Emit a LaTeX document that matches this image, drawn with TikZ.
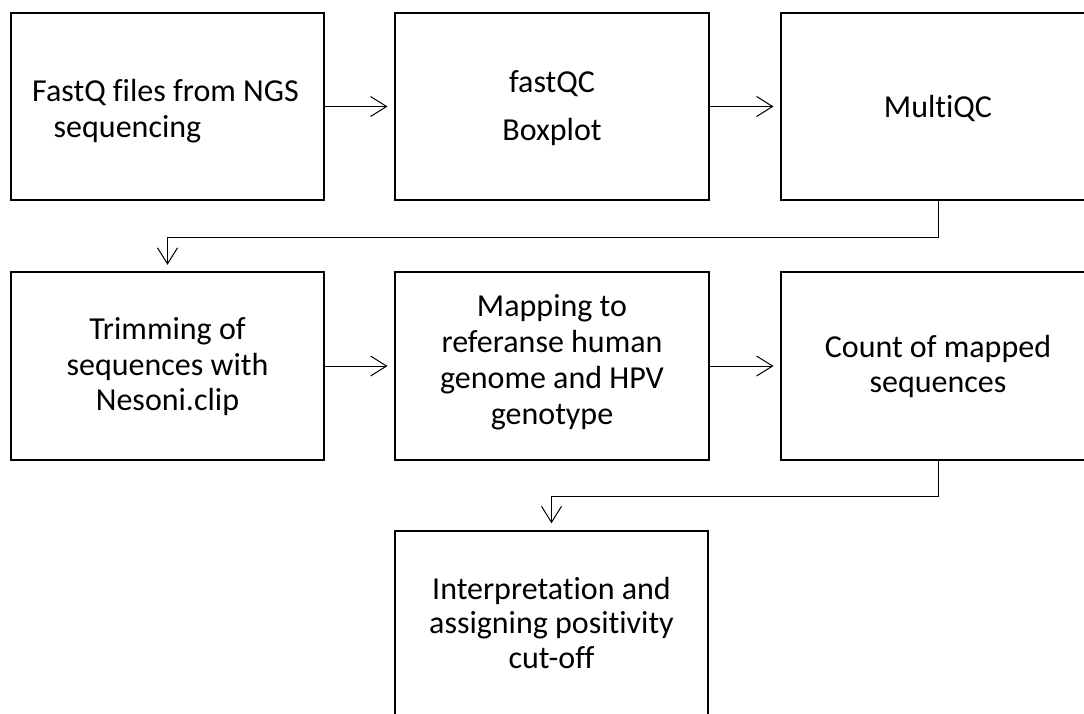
\documentclass[tikz,border=0pt]{standalone}
\usepackage{fontspec}
\setmainfont{Carlito}[Ligatures={NoCommon}]
\usetikzlibrary{arrows.meta}
\begin{document}
\begin{tikzpicture}[x=1pt,y=-1pt,
  box/.style={draw=black,line width=2.3pt,rectangle,inner sep=0pt,outer sep=0pt,
    minimum width=314pt,minimum height=187.5pt},
  txt/.style={anchor=base,inner sep=0pt,outer sep=0pt,
    font=\fontsize{32}{35.5}\selectfont},
  conn/.style={draw=black,line width=1pt,
    -{Straight Barb[length=16pt,width=20pt,line width=1pt]},shorten >=7.5pt}]
\useasboundingbox (0,0) rectangle (1084,713);
\clip (0,0) rectangle (1084,713);
% boxes
\node[box,minimum width=313pt] (a1) at (167.5,106.5) {};
\node[box] (a2) at (552,106.5) {};
\node[box,minimum width=380pt] (a3) at (971,106.5) {};
\node[box,minimum width=313pt] (b1) at (167.5,366) {};
\node[box] (b2) at (552,366) {};
\node[box,minimum width=380pt] (b3) at (971,366) {};
\node[box,minimum width=313pt] (c1) at (551.5,624.5) {};
% texts
\node[txt] (ta1l1) at (165.5,101.7) {FastQ files from NGS};
\node[txt] (ta1l2) at (127.5,137) {sequencing};
\node[txt] (ta2l1) at (552,92) {fastQC};
\node[txt] (ta2l2) at (552,140) {Boxplot};
\node[txt] (ta3l1) at (938,117) {MultiQC};
\node[txt] (tb1l1) at (167.5,339.5) {Trimming of};
\node[txt] (tb1l2) at (167.5,375) {sequences with};
\node[txt] (tb1l3) at (167.5,410.5) {Nesoni.clip};
\node[txt] (tb2l1) at (552,316.5) {Mapping to};
\node[txt] (tb2l2) at (552,352.5) {referanse human};
\node[txt] (tb2l3) at (552,388.5) {genome and HPV};
\node[txt] (tb2l4) at (552,424) {genotype};
\node[txt] (tb3l1) at (938,357) {Count of mapped};
\node[txt] (tb3l2) at (938,392.5) {sequences};
\node[txt] (tc1l1) at (551.5,599) {Interpretation and};
\node[txt] (tc1l2) at (551.5,633.5) {assigning positivity};
\node[txt] (tc1l3) at (551.5,668) {cut-off};
% connectors
\draw[conn] (a1.east) -- (a2.west);
\draw[conn] (a2.east) -- (a3.west);
\draw[conn] (b1.east) -- (b2.west);
\draw[conn] (b2.east) -- (b3.west);
\coordinate (e1) at (938,237);
\coordinate (e2) at (938,496);
\draw[conn] (e1 |- a3.south) -- (e1) -| (b1.north);
\draw[conn] (e2 |- b3.south) -- (e2) -| (c1.north);
\end{tikzpicture}
\end{document}
